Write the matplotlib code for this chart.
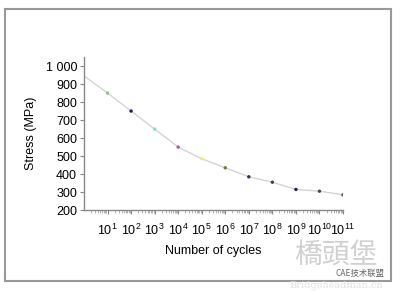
import matplotlib.pyplot as plt
from matplotlib.patches import Rectangle
from matplotlib.ticker import LogLocator, NullFormatter

plt.rcParams['font.family'] = ['Liberation Sans', 'Noto Sans CJK SC', 'DejaVu Sans']
plt.rcParams['mathtext.fontset'] = 'custom'
plt.rcParams['mathtext.rm'] = 'Liberation Sans'
plt.rcParams['mathtext.it'] = 'Liberation Sans'

# S-N curve data
exponents = [0, 1, 2, 3, 4, 5, 6, 7, 8, 9, 10, 11]
stress = [945, 850, 750, 650, 550, 485, 435, 385, 355, 315, 305, 285]
point_colors = ['#7fc97f', '#1c1c70', '#80e0d0', '#a0609a', '#f2f060', '#707a30',
                '#303052', '#553355', '#202045', '#405040', '#555555']
yticks = [200, 300, 400, 500, 600, 700, 800, 900, 1000]
ytick_labels = ['200', '300', '400', '500', '600', '700', '800', '900', '1 000']

cycles = [10.0 ** e for e in exponents]

fig = plt.figure(figsize=(4, 2.91), dpi=100)
ax = fig.add_axes([0.21, 0.278, 0.6475, 0.526])

ax.plot(cycles, stress, color='#d4d4d4', lw=1, zorder=1)
ax.scatter(cycles[1:], stress[1:], s=6, c=point_colors, zorder=2, linewidths=0)

ax.set_xscale('log')
ax.set_xlim(1, 1e11)
ax.set_ylim(200, 1050)
ax.set_yticks(yticks)
ax.set_yticklabels(ytick_labels)
ax.set_xticks(cycles[1:])
ax.set_xticklabels([r'$10^{%d}$' % e for e in exponents[1:]])
ax.xaxis.set_minor_locator(LogLocator(base=10, subs=range(2, 10), numticks=100))
ax.xaxis.set_minor_formatter(NullFormatter())

for s in ['top', 'right']:
    ax.spines[s].set_visible(False)
for s in ['left', 'bottom']:
    ax.spines[s].set_color('#888888')
    ax.spines[s].set_linewidth(1)
ax.tick_params(axis='both', colors='#888888', labelcolor='black', labelsize=9, length=3, width=0.8, pad=2)
ax.tick_params(axis='x', which='minor', colors='#aaaaaa', length=2)
ax.tick_params(axis='x', labelsize=9, pad=6)

ax.set_xlabel('Number of cycles', fontsize=9, labelpad=5)
ax.set_ylabel('Stress (MPa)', fontsize=9, labelpad=6)

# grey frame round the picture
fig.patches.append(Rectangle((5 / 400, 1 - 281 / 291), 386 / 400, 272 / 291,
                             transform=fig.transFigure, fill=False,
                             edgecolor='#999999', lw=1.5))

# watermark
fig.text(0.84, 0.125, '橋頭堡', fontsize=20, color='#d0d0d0', ha='center', va='center',
         family=['Noto Sans CJK TC', 'DejaVu Sans'])
fig.text(0.90, 0.062, 'CAE技术联盟', fontsize=6, color='#666666', ha='center', va='center',
         family=['Noto Sans CJK SC', 'DejaVu Sans'])
fig.text(0.84, 0.02, 'Bridgeheadman.cn', fontsize=7, color='#e0e0e0', ha='center', va='center',
         family=['DejaVu Serif'])

fig.savefig('out.png', dpi=100)
